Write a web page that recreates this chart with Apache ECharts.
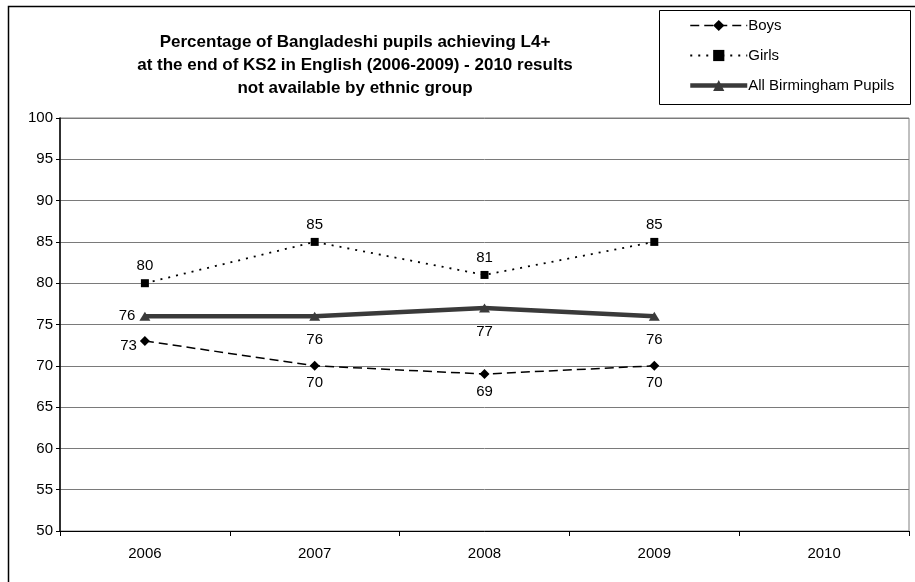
<!DOCTYPE html>
<html>
<head>
<meta charset="utf-8">
<script src="https://cdn.jsdelivr.net/npm/echarts@6/dist/echarts.min.js"></script>
<style>
  html, body { margin: 0; padding: 0; background: #fff; }
  #chart { width: 915px; height: 582px; }
</style>
</head>
<body>
<div id="chart"></div>
<script>
// Key Stage 2 English results, Bangladeshi pupils vs. city average
const years = ['2006', '2007', '2008', '2009', '2010'];
const boys = [73, 70, 69, 70, null];
const girls = [80, 85, 81, 85, null];
const allPupils = [76, 76, 77, 76, null];
const seriesNames = ['Boys', 'Girls', 'All Birmingham Pupils'];
const titleText = 'Percentage of Bangladeshi pupils achieving L4+\nat the end of KS2 in English (2006-2009) - 2010 results\nnot available by ethnic group';

const FONT = '"Liberation Sans", Arial, sans-serif';

// label placement per point: where the value sits relative to its marker
function withLabels(values, placements) {
  return values.map((v, i) => {
    if (v === null) return null;
    const p = placements[i] || placements[placements.length - 1];
    return { value: v, label: p };
  });
}

const boysData = withLabels(boys, [
  { position: 'left', distance: 3, offset: [0, 5] },
  { position: 'bottom', distance: 5 },
  { position: 'bottom', distance: 5 },
  { position: 'bottom', distance: 5 }
]);
const girlsData = withLabels(girls, [
  { position: 'top', distance: 6 }
]);
const allData = withLabels(allPupils, [
  { position: 'left', distance: 4 },
  { position: 'bottom', distance: 12 },
  { position: 'bottom', distance: 12 },
  { position: 'bottom', distance: 12 }
]);

const labelBase = { show: true, color: '#000', fontFamily: FONT, fontSize: 15 };

const lineStyles = [
  { color: '#000', width: 1.5, type: [9, 5] },
  { color: '#000', width: 1.8, type: [2, 6] },
  { color: '#3a3a3a', width: 4.5, type: 'solid' }
];
const markerColors = ['#000', '#000', '#3a3a3a'];

const chart = echarts.init(document.getElementById('chart'), null, { renderer: 'canvas' });
chart.setOption({
  backgroundColor: '#fff',
  animation: false,
  title: {
    text: titleText,
    left: 355,
    top: 31,
    padding: 0,
    textAlign: 'center',
    textStyle: { fontFamily: FONT, fontSize: 17, fontWeight: 'bold', color: '#000', lineHeight: 23 }
  },
  graphic: [
    { type: 'rect', z: -10, shape: { x: 8.5, y: 6.5, width: 950, height: 650 },
      style: { fill: '#fff', stroke: '#000', lineWidth: 1.5 }, silent: true },
    { type: 'rect', z: 0, shape: { x: 659.5, y: 10.5, width: 251, height: 94 },
      style: { fill: '#fff', stroke: '#000', lineWidth: 1 }, silent: true }
  ],
  legend: {
    orient: 'vertical',
    left: 688,
    top: 18,
    padding: 0,
    itemWidth: 57,
    itemHeight: 14,
    itemGap: 15,
    z: 5,
    data: seriesNames.map((name, i) => ({
      name: name,
      lineStyle: lineStyles[i],
      itemStyle: { color: markerColors[i] }
    })),
    textStyle: { fontFamily: FONT, fontSize: 15, color: '#000', padding: [0, 0, 0, -4] }
  },
  grid: {
    left: 60, right: 6, top: 118, bottom: 51,
    show: true, borderColor: '#808080', borderWidth: 1, backgroundColor: 'transparent'
  },
  xAxis: {
    type: 'category',
    data: years,
    boundaryGap: true,
    axisLine: { show: true, lineStyle: { color: '#000', width: 1 } },
    axisTick: { show: true, length: 5, lineStyle: { color: '#000' } },
    axisLabel: { color: '#000', fontFamily: FONT, fontSize: 15, margin: 15 },
    splitLine: { show: false }
  },
  yAxis: {
    type: 'value',
    min: 50, max: 100, interval: 5,
    axisLine: { show: true, lineStyle: { color: '#000', width: 1.5 } },
    axisTick: { show: true, length: 4, lineStyle: { color: '#000' } },
    axisLabel: { color: '#000', fontFamily: FONT, fontSize: 15, margin: 7 },
    splitLine: { show: true, lineStyle: { color: '#7a7a7a', width: 1 } }
  },
  series: [
    {
      name: seriesNames[0], type: 'line', data: boysData, z: 3,
      symbol: 'diamond', symbolSize: 10,
      itemStyle: { color: markerColors[0] },
      lineStyle: lineStyles[0],
      label: labelBase
    },
    {
      name: seriesNames[1], type: 'line', data: girlsData, z: 3,
      symbol: 'rect', symbolSize: 8,
      itemStyle: { color: markerColors[1] },
      lineStyle: lineStyles[1],
      label: labelBase
    },
    {
      name: seriesNames[2], type: 'line', data: allData, z: 2,
      symbol: 'triangle', symbolSize: [11, 9],
      itemStyle: { color: markerColors[2] },
      lineStyle: lineStyles[2],
      label: labelBase
    }
  ]
});
</script>
</body>
</html>
